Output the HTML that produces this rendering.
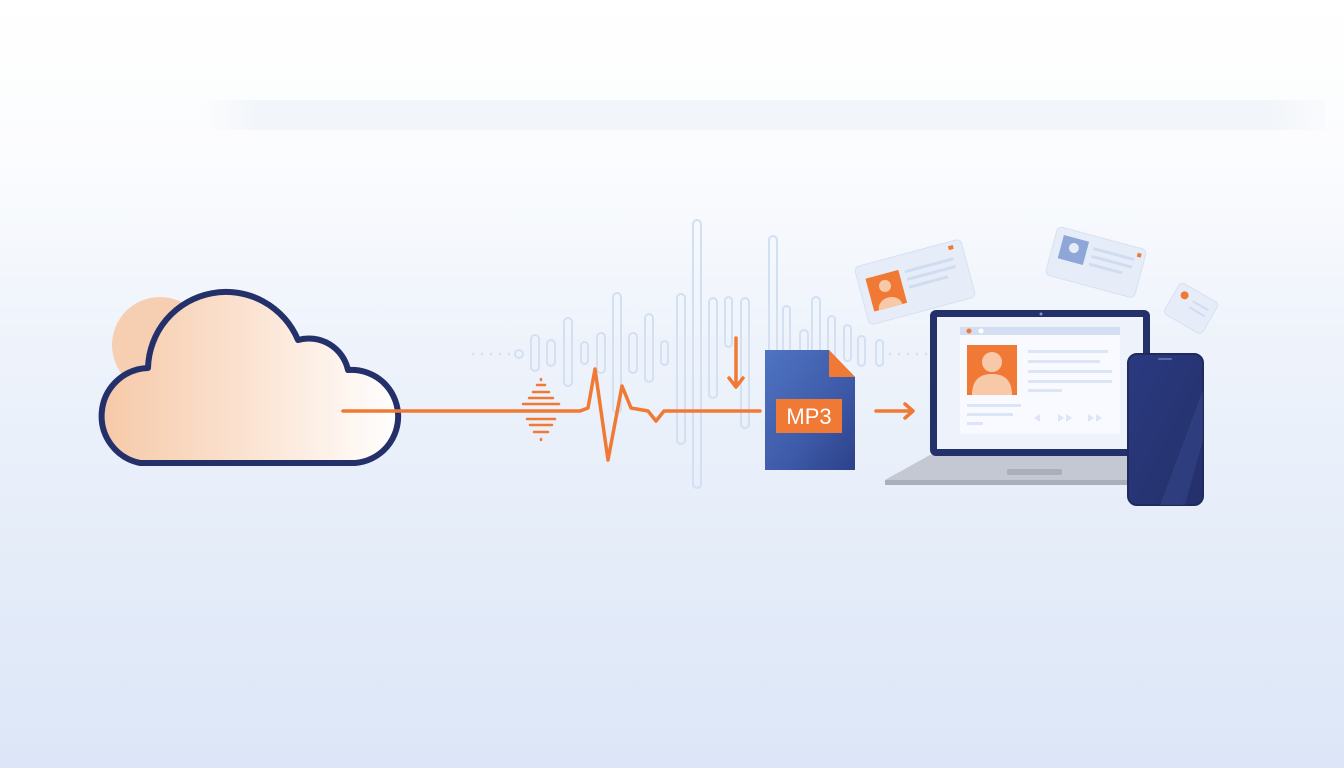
<!DOCTYPE html>
<html><head><meta charset="utf-8"><style>
html,body{margin:0;padding:0;width:1344px;height:768px;overflow:hidden}
body{background:linear-gradient(180deg,#ffffff 0%,#fbfcfe 20%,#eef3fb 45%,#e4ecf9 75%,#dce6f8 100%)}
</style></head><body>
<svg width="1344" height="768" viewBox="0 0 1344 768" xmlns="http://www.w3.org/2000/svg" style="position:absolute;left:0;top:0">
<defs>
<linearGradient id="cl" x1="0" y1="0" x2="1" y2="0">
<stop offset="0" stop-color="#f6c9a8"/><stop offset="0.5" stop-color="#fbe3d2"/><stop offset="1" stop-color="#ffffff"/></linearGradient>
<linearGradient id="fl" x1="0" y1="0" x2="1" y2="1">
<stop offset="0" stop-color="#4f74c2"/><stop offset="0.6" stop-color="#3d5aa8"/><stop offset="1" stop-color="#2d4089"/></linearGradient>
<linearGradient id="ph" x1="0" y1="0" x2="1" y2="1">
<stop offset="0" stop-color="#2a3a80"/><stop offset="1" stop-color="#24306a"/></linearGradient>
<linearGradient id="band" x1="0" y1="0" x2="1" y2="0">
<stop offset="0" stop-color="#eef2f8" stop-opacity="0"/><stop offset="0.05" stop-color="#eef2f8"/><stop offset="0.95" stop-color="#eef2f8"/><stop offset="1" stop-color="#eef2f8" stop-opacity="0.3"/></linearGradient>
</defs>
<rect x="200" y="100" width="1125" height="30" fill="url(#band)" opacity="0.7"/>
<!-- waveform bars -->
<g fill="none" stroke="#d3dff3" stroke-width="2">
<rect x="531" y="335" width="8" height="36" rx="4"/><rect x="547" y="340" width="8" height="26" rx="4"/>
<rect x="564" y="318" width="8" height="68" rx="4"/><rect x="581" y="342" width="7" height="22" rx="3.5"/>
<rect x="597" y="333" width="8" height="40" rx="4"/><rect x="613" y="293" width="8" height="120" rx="4"/>
<rect x="629" y="333" width="8" height="40" rx="4"/><rect x="645" y="314" width="8" height="68" rx="4"/>
<rect x="661" y="341" width="7" height="24" rx="3.5"/><rect x="677" y="294" width="8" height="150" rx="4"/>
<rect x="693" y="220" width="8" height="268" rx="4"/><rect x="709" y="298" width="8" height="100" rx="4"/>
<rect x="725" y="297" width="7" height="50" rx="3.5"/><rect x="741" y="298" width="8" height="130" rx="4"/>
<rect x="769" y="236" width="8" height="230" rx="4"/><rect x="783" y="306" width="7" height="72" rx="3.5"/>
<rect x="800" y="330" width="8" height="50" rx="4"/><rect x="812" y="297" width="8" height="70" rx="4"/>
<rect x="828" y="316" width="7" height="56" rx="3.5"/><rect x="844" y="325" width="7" height="36" rx="3.5"/>
<rect x="858" y="336" width="7" height="30" rx="3.5"/><rect x="876" y="340" width="7" height="26" rx="3.5"/>
<circle cx="519" cy="354" r="4"/>
</g>
<g fill="#d3dff3"><circle cx="473" cy="354" r="1.3"/><circle cx="482" cy="354" r="1.3"/><circle cx="491" cy="354" r="1.3"/><circle cx="500" cy="354" r="1.3"/><circle cx="509" cy="354" r="1.3"/>
<circle cx="890" cy="354" r="1.3"/><circle cx="899" cy="354" r="1.3"/><circle cx="908" cy="354" r="1.3"/><circle cx="917" cy="354" r="1.3"/><circle cx="926" cy="354" r="1.3"/></g>
<!-- cloud -->
<circle cx="160" cy="345" r="48" fill="#f6cfb3"/>
<path d="M140,463 A48,48 0 0 1 148,368 A78,78 0 0 1 298,340 A40,40 0 0 1 348,370 A46,46 0 0 1 355,463 Z" fill="url(#cl)" stroke="#24306a" stroke-width="6" stroke-linejoin="round"/>
<!-- orange line -->
<g fill="none" stroke="#f07a35" stroke-width="3.5" stroke-linejoin="round" stroke-linecap="round">
<path d="M343,411 H580 L588,408 L595,369 L608,460 L622,386 L631,408 L648,411 L656,421 L664,411 H760"/>
<path d="M736,338 V385 M729,378 L736,387 L743,378"/>
<path d="M876,411 H912 M905,404 L913,411 L905,418"/>
</g>
<g stroke="#f07a35" stroke-width="2.5" stroke-linecap="round">
<line x1="541" y1="379" x2="541" y2="380"/><line x1="537" y1="385" x2="545" y2="385"/><line x1="533" y1="392" x2="549" y2="392"/>
<line x1="529" y1="398" x2="553" y2="398"/><line x1="523" y1="404" x2="559" y2="404"/><line x1="527" y1="419" x2="555" y2="419"/>
<line x1="530" y1="425" x2="552" y2="425"/><line x1="534" y1="432" x2="548" y2="432"/><line x1="541" y1="439" x2="541" y2="440"/>
</g>
<!-- file -->
<path d="M765,350 H829 L855,377 V470 H765 Z" fill="url(#fl)"/>
<path d="M829,350 L855,377 H829 Z" fill="#f07a35"/>
<rect x="776" y="399" width="66" height="34" fill="#f07a35"/>
<text x="809" y="424" font-family="Liberation Sans, sans-serif" font-size="22" fill="#fff" text-anchor="middle">MP3</text>
<!-- cards -->
<g transform="rotate(-15 915 282)">
<rect x="860" y="252" width="110" height="60" rx="5" fill="#e6edf9" stroke="#d6e1f3"/>
<rect x="868" y="266" width="34" height="34" fill="#f07a35"/>
<circle cx="885" cy="278" r="6" fill="#f8c9a8"/><path d="M873,300 A12,10 0 0 1 897,300Z" fill="#f8c9a8"/>
<rect x="908" y="268" width="50" height="3" fill="#d0dcf0"/><rect x="908" y="276" width="50" height="3" fill="#d0dcf0"/><rect x="908" y="284" width="40" height="3" fill="#d0dcf0"/>
<rect x="956" y="256" width="5" height="4" fill="#f07a35"/>
</g>
<g transform="rotate(15 1095 262)">
<rect x="1050" y="237" width="92" height="50" rx="5" fill="#e6edf9" stroke="#d6e1f3"/>
<rect x="1058" y="244" width="26" height="24" fill="#8ea6d8"/><circle cx="1071" cy="254" r="5" fill="#e6edf9"/>
<rect x="1090" y="248" width="42" height="3" fill="#d0dcf0"/><rect x="1090" y="256" width="42" height="3" fill="#d0dcf0"/><rect x="1090" y="264" width="34" height="3" fill="#d0dcf0"/>
<rect x="1134" y="242" width="4" height="4" fill="#f07a35"/>
</g>
<g transform="rotate(30 1190 310)">
<rect x="1168" y="290" width="44" height="36" rx="4" fill="#e6edf9" stroke="#d6e1f3"/>
<circle cx="1178" cy="300" r="4" fill="#f07a35"/>
<rect x="1188" y="300" width="18" height="2" fill="#d0dcf0"/><rect x="1188" y="307" width="18" height="2" fill="#d0dcf0"/>
</g>
<!-- laptop -->
<path d="M885,480 L930,455 H1150 V485 H895 Z" fill="#c3c8d2"/>
<rect x="885" y="480" width="265" height="5" fill="#a9afbb"/>
<rect x="1007" y="469" width="55" height="6" rx="2" fill="#a9afbb"/>
<rect x="930" y="310" width="220" height="146" rx="6" fill="#24306a"/>
<rect x="937" y="317" width="206" height="132" fill="#eef3fb"/>
<circle cx="1041" cy="314" r="1.5" fill="#8893b8"/>
<rect x="960" y="327" width="160" height="107" rx="2" fill="#f8faff"/>
<rect x="960" y="327" width="160" height="8" fill="#d4def2"/>
<circle cx="969" cy="331" r="2.5" fill="#f07a35"/><circle cx="981" cy="331" r="2.5" fill="#fff"/>
<rect x="967" y="345" width="50" height="50" fill="#f07a35"/>
<circle cx="992" cy="362" r="10" fill="#f8c9a8"/><path d="M972,395 Q972,374 992,374 Q1012,374 1012,395Z" fill="#f8c9a8"/>
<g fill="#dce5f5"><rect x="1028" y="350" width="80" height="3"/><rect x="1028" y="360" width="72" height="3"/><rect x="1028" y="370" width="84" height="3"/><rect x="1028" y="380" width="84" height="3"/><rect x="1028" y="389" width="34" height="3"/>
<rect x="967" y="404" width="54" height="3"/><rect x="967" y="413" width="46" height="3"/><rect x="967" y="422" width="16" height="3"/>
<path d="M1040,414 L1034,418 L1040,422Z M1047,414 V422 M1058,414 L1064,418 L1058,422Z M1066,414 L1072,418 L1066,422Z M1088,414 L1094,418 L1088,422Z M1096,414 L1102,418 L1096,422Z"/></g>
<!-- phone -->
<rect x="1128" y="354" width="75" height="151" rx="9" fill="url(#ph)" stroke="#1f2a5e" stroke-width="2"/>
<rect x="1158" y="358" width="14" height="2" rx="1" fill="#5a6aa8"/>
<path d="M1160,505 L1203,390 V440 L1185,505Z" fill="#3b4d93" opacity="0.4"/>
</svg>
</body></html>
